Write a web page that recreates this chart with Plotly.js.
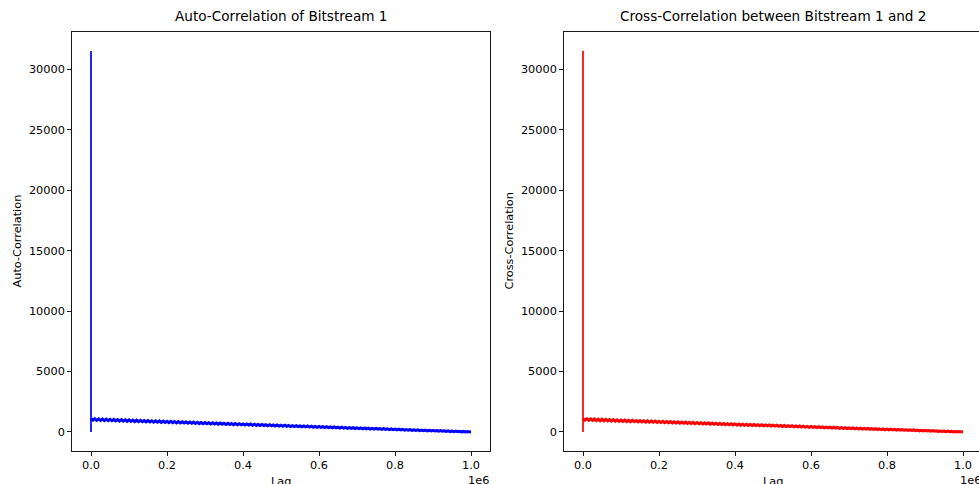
<!DOCTYPE html>
<html>
<head>
<meta charset="utf-8">
<script src="https://cdn.plot.ly/plotly-3.0.1.min.js"></script>
<style>
html,body{margin:0;padding:0;overflow:hidden;background:#fff;}
#chart{width:990px;height:484px;}
</style>
</head>
<body>
<div id="chart"></div>
<script>
// Lag positions (sampled along the band) -- first two are the lag-0 spike
const lags = [0, 0, 1, 5000, 10000, 15000, 20000, 25000, 30000, 35000, 40000, 45000,
 50000, 55000, 60000, 65000, 70000, 75000, 80000, 85000, 90000, 95000,
 100000, 105000, 110000, 115000, 120000, 125000, 130000, 135000, 140000, 145000,
 150000, 155000, 160000, 165000, 170000, 175000, 180000, 185000, 190000, 195000,
 200000, 205000, 210000, 215000, 220000, 225000, 230000, 235000, 240000, 245000,
 250000, 255000, 260000, 265000, 270000, 275000, 280000, 285000, 290000, 295000,
 300000, 305000, 310000, 315000, 320000, 325000, 330000, 335000, 340000, 345000,
 350000, 355000, 360000, 365000, 370000, 375000, 380000, 385000, 390000, 395000,
 400000, 405000, 410000, 415000, 420000, 425000, 430000, 435000, 440000, 445000,
 450000, 455000, 460000, 465000, 470000, 475000, 480000, 485000, 490000, 495000,
 500000, 505000, 510000, 515000, 520000, 525000, 530000, 535000, 540000, 545000,
 550000, 555000, 560000, 565000, 570000, 575000, 580000, 585000, 590000, 595000,
 600000, 605000, 610000, 615000, 620000, 625000, 630000, 635000, 640000, 645000,
 650000, 655000, 660000, 665000, 670000, 675000, 680000, 685000, 690000, 695000,
 700000, 705000, 710000, 715000, 720000, 725000, 730000, 735000, 740000, 745000,
 750000, 755000, 760000, 765000, 770000, 775000, 780000, 785000, 790000, 795000,
 800000, 805000, 810000, 815000, 820000, 825000, 830000, 835000, 840000, 845000,
 850000, 855000, 860000, 865000, 870000, 875000, 880000, 885000, 890000, 895000,
 900000, 905000, 910000, 915000, 920000, 925000, 930000, 935000, 940000, 945000,
 950000, 955000, 960000, 965000, 970000, 975000, 980000, 985000, 990000, 995000, 999999];

// Auto-correlation of bitstream 1 (band drawn as its upper/lower excursions)
const autoCorr = [0, 31500,
 1100, 975, 1092, 962, 1085, 955, 1070, 940, 1062, 935,
 1048, 928, 1038, 912, 1025, 905, 1018, 895, 1005, 882,
 993, 875, 985, 862, 972, 855, 958, 848, 950, 835,
 942, 825, 928, 812, 918, 805, 910, 795, 896, 783,
 885, 775, 877, 765, 864, 752, 853, 745, 845, 735,
 832, 722, 821, 715, 812, 705, 799, 692, 788, 685,
 779, 675, 767, 662, 756, 655, 748, 645, 734, 632,
 723, 625, 715, 615, 702, 603, 691, 595, 683, 585,
 669, 572, 659, 565, 650, 555, 637, 542, 626, 535,
 618, 525, 605, 512, 594, 505, 585, 495, 572, 482,
 561, 475, 553, 465, 540, 452, 529, 445, 520, 435,
 507, 422, 497, 415, 488, 405, 475, 392, 464, 385,
 455, 375, 443, 362, 432, 355, 423, 345, 410, 332,
 399, 325, 391, 315, 378, 302, 367, 295, 358, 285,
 345, 272, 335, 265, 326, 255, 313, 242, 302, 235,
 293, 225, 281, 212, 270, 205, 261, 195, 248, 182,
 237, 175, 229, 165, 216, 152, 205, 145, 196, 135,
 183, 122, 173, 115, 164, 105, 151, 92, 140, 85,
 131, 75, 119, 62, 108, 55, 99, 45, 86, 33,
 75, 25, 67, 15, 54, 3, 43, -5, 34, -12, 2];

// Cross-correlation between bitstream 1 and 2
const crossCorr = [0, 31500,
 1105, 978, 1090, 965, 1082, 952, 1073, 943, 1060, 930,
 1052, 925, 1035, 915, 1028, 902, 1015, 898, 1008, 880,
 990, 878, 988, 860, 970, 858, 960, 845, 948, 838,
 945, 822, 925, 815, 920, 802, 907, 798, 898, 780,
 883, 778, 879, 762, 862, 755, 855, 742, 843, 738,
 834, 720, 819, 718, 814, 702, 797, 695, 790, 682,
 777, 678, 769, 660, 754, 658, 750, 642, 732, 635,
 725, 622, 713, 618, 704, 600, 689, 598, 685, 582,
 667, 575, 661, 562, 648, 558, 639, 540, 624, 538,
 620, 522, 603, 515, 596, 502, 583, 498, 574, 480,
 559, 478, 555, 462, 538, 455, 531, 442, 518, 438,
 509, 420, 495, 418, 490, 402, 473, 395, 466, 382,
 453, 378, 445, 360, 430, 358, 425, 342, 408, 335,
 401, 322, 389, 318, 380, 300, 365, 298, 360, 282,
 343, 275, 337, 262, 324, 258, 315, 240, 300, 238,
 295, 222, 279, 215, 272, 202, 259, 198, 250, 180,
 235, 178, 231, 162, 214, 155, 207, 142, 194, 138,
 185, 120, 171, 118, 166, 102, 149, 95, 142, 82,
 129, 78, 121, 60, 106, 58, 101, 42, 84, 36,
 77, 22, 65, 18, 56, 0, 41, -2, 36, -10, 2];

const xTickVals = [0, 200000, 400000, 600000, 800000, 1000000];
const xTickText = ["0.0", "0.2", "0.4", "0.6", "0.8", "1.0"];
const yTickVals = [0, 5000, 10000, 15000, 20000, 25000, 30000];
const yTickText = ["0", "5000", "10000", "15000", "20000", "25000", "30000"];

const W = 990, H = 484;
const FONT = "DejaVu Sans, sans-serif";
const px = v => v / W;
const py = v => 1 - v / H;

const axBox = {
  showline: true, mirror: true, linecolor: "#000", linewidth: 0.9,
  ticks: "outside", ticklen: 4, tickwidth: 0.9, tickcolor: "#000",
  showgrid: false, zeroline: false,
  tickfont: {family: FONT, size: 11.3, color: "#000"}
};

const xRange = [-50000, 1050000];
const yRange = [-1575, 33075];

// spike part (lag 0 up to the first band point) and band part of each series
const spikeEnd = 3;
const traces = [
  {x: lags.slice(0, spikeEnd), y: autoCorr.slice(0, spikeEnd), type: "scatter", mode: "lines",
   xaxis: "x", yaxis: "y", line: {color: "#0000ff", width: 1.7}, hoverinfo: "skip"},
  {x: lags.slice(spikeEnd - 1), y: autoCorr.slice(spikeEnd - 1), type: "scatter", mode: "lines",
   xaxis: "x", yaxis: "y", line: {color: "#0000ff", width: 3}, hoverinfo: "skip"},
  {x: lags.slice(0, spikeEnd), y: crossCorr.slice(0, spikeEnd), type: "scatter", mode: "lines",
   xaxis: "x2", yaxis: "y2", line: {color: "#ff0000", width: 1.7}, hoverinfo: "skip"},
  {x: lags.slice(spikeEnd - 1), y: crossCorr.slice(spikeEnd - 1), type: "scatter", mode: "lines",
   xaxis: "x2", yaxis: "y2", line: {color: "#ff0000", width: 3}, hoverinfo: "skip"}
];

const layout = {
  width: W, height: H,
  margin: {l: 0, r: 0, t: 0, b: 0},
  paper_bgcolor: "#fff", plot_bgcolor: "#fff",
  showlegend: false,
  xaxis: Object.assign({}, axBox, {domain: [px(72), px(490)], range: xRange,
    tickmode: "array", tickvals: xTickVals, ticktext: xTickText, anchor: "y"}),
  yaxis: Object.assign({}, axBox, {domain: [py(451), py(32)], range: yRange,
    tickmode: "array", tickvals: yTickVals, ticktext: yTickText, anchor: "x"}),
  xaxis2: Object.assign({}, axBox, {domain: [px(564), px(982)], range: xRange,
    tickmode: "array", tickvals: xTickVals, ticktext: xTickText, anchor: "y2"}),
  yaxis2: Object.assign({}, axBox, {domain: [py(451), py(32)], range: yRange,
    tickmode: "array", tickvals: yTickVals, ticktext: yTickText, anchor: "x2"}),
  annotations: [
    {text: "Auto-Correlation of Bitstream 1", xref: "paper", yref: "paper",
     x: px(281), y: py(26), xanchor: "center", yanchor: "bottom", showarrow: false,
     font: {family: FONT, size: 13.6, color: "#000"}},
    {text: "Cross-Correlation between Bitstream 1 and 2", xref: "paper", yref: "paper",
     x: px(773), y: py(26), xanchor: "center", yanchor: "bottom", showarrow: false,
     font: {family: FONT, size: 13.6, color: "#000"}},
    {text: "Auto-Correlation", xref: "paper", yref: "paper", textangle: -90,
     x: px(8), y: py(241), xanchor: "left", yanchor: "middle", showarrow: false,
     font: {family: FONT, size: 11.3, color: "#000"}},
    {text: "Cross-Correlation", xref: "paper", yref: "paper", textangle: -90,
     x: px(500), y: py(241), xanchor: "left", yanchor: "middle", showarrow: false,
     font: {family: FONT, size: 11.3, color: "#000"}},
    {text: "Lag", xref: "paper", yref: "paper",
     x: px(281), y: py(473), xanchor: "center", yanchor: "top", showarrow: false,
     font: {family: FONT, size: 11.3, color: "#000"}},
    {text: "Lag", xref: "paper", yref: "paper",
     x: px(773), y: py(473), xanchor: "center", yanchor: "top", showarrow: false,
     font: {family: FONT, size: 11.3, color: "#000"}},
    {text: "1e6", xref: "paper", yref: "paper",
     x: px(491), y: py(472), xanchor: "right", yanchor: "top", showarrow: false,
     font: {family: FONT, size: 11.3, color: "#000"}},
    {text: "1e6", xref: "paper", yref: "paper",
     x: px(983), y: py(472), xanchor: "right", yanchor: "top", showarrow: false,
     font: {family: FONT, size: 11.3, color: "#000"}}
  ]
};

Plotly.newPlot("chart", traces, layout, {staticPlot: true, displayModeBar: false});
</script>
</body>
</html>
